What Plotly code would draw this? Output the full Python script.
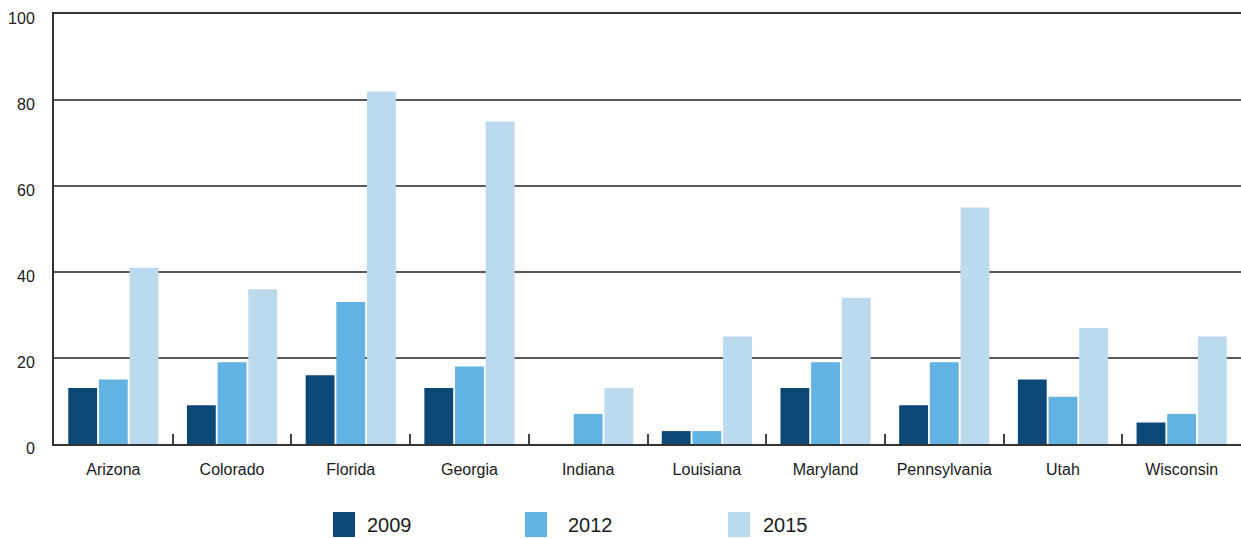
import plotly.graph_objects as go

states = ["Arizona", "Colorado", "Florida", "Georgia", "Indiana",
          "Louisiana", "Maryland", "Pennsylvania", "Utah", "Wisconsin"]
series_names = ["2009", "2012", "2015"]
v2009 = [13, 9, 16, 13, 0, 3, 13, 9, 15, 5]
v2012 = [15, 19, 33, 18, 7, 3, 19, 19, 11, 7]
v2015 = [41, 36, 82, 75, 13, 25, 34, 55, 27, 25]
colors = ["#0c4877", "#62b3e4", "#bbdaed"]
y_ticks = [0, 20, 40, 60, 80, 100]

W, H = 1241, 538
ML, MR, MT, MB = 54, 0, 14, 94

fig = go.Figure()
for name, vals, col in zip(series_names, [v2009, v2012, v2015], colors):
    fig.add_trace(go.Bar(x=states, y=vals, name=name, marker_color=col,
                         marker_line_width=0, showlegend=False))

font = "Liberation Sans, Arial, Helvetica, sans-serif"
fig.update_layout(
    width=W, height=H,
    margin=dict(l=ML, r=MR, t=MT, b=MB, pad=0),
    paper_bgcolor="white", plot_bgcolor="white",
    barmode="group", bargap=0.225, bargroupgap=0.06,
    font=dict(family=font, size=16, color="#1a1a1a"),
)
fig.update_xaxes(
    showline=True, linecolor="#333333", linewidth=2, mirror=True,
    ticks="inside", tickson="boundaries", ticklen=10, tickwidth=2,
    tickcolor="#444444", showgrid=False,
    tickfont=dict(size=16, family=font, color="#1a1a1a"),
    ticklabelstandoff=10,
)
fig.update_yaxes(
    range=[0, 100], tickvals=y_ticks, showgrid=True,
    gridcolor="#5a5a5a", gridwidth=2,
    showline=True, linecolor="#333333", linewidth=2,
    zeroline=False, ticks="", ticklabelstandoff=14, ticklabelshift=4,
    tickfont=dict(size=16, family=font, color="#1a1a1a"),
)

# legend drawn as large squares below the chart
plot_w = W - ML - MR
plot_h = H - MT - MB
leg_sq_x = [333, 525, 728]
leg_txt_x = [365, 566, 761]
sq_w, sq_top, sq_bot = 22, 512, 537
for name, col, sx, tx in zip(series_names, colors, leg_sq_x, leg_txt_x):
    fig.add_shape(type="rect", xref="paper", yref="paper",
                  x0=(sx - ML) / plot_w, x1=(sx + sq_w - ML) / plot_w,
                  y0=(H - MB - sq_bot) / plot_h, y1=(H - MB - sq_top) / plot_h,
                  fillcolor=col, line_width=0)
    fig.add_annotation(xref="paper", yref="paper",
                       x=(tx - ML) / plot_w, y=(H - MB - 525) / plot_h,
                       xanchor="left", yanchor="middle", showarrow=False,
                       text=name,
                       font=dict(size=20, color="#1a1a1a",
                                 family="Liberation Sans, Arial, sans-serif"))

fig.write_html("out.html", config={"displayModeBar": False},
               post_script="document.body.style.margin='0';document.body.style.overflow='hidden';")
